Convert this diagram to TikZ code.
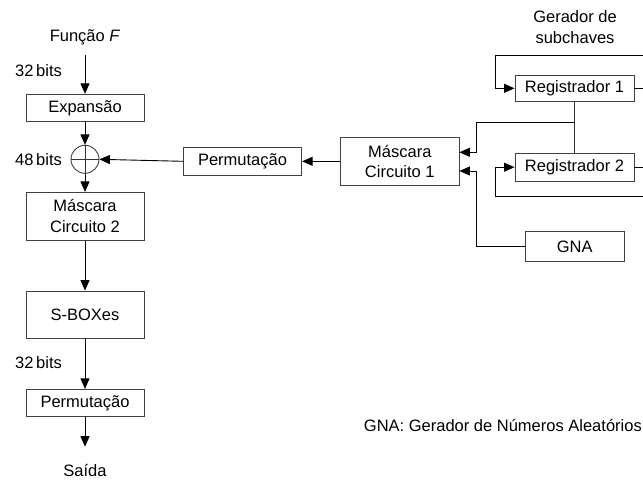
\documentclass[tikz,border=0pt]{standalone}
\usepackage{fontspec}
\setmainfont{Liberation Sans}
\usetikzlibrary{arrows.meta}
\begin{document}
\begin{tikzpicture}[x=1pt,y=-1pt,
  every node/.style={font=\fontsize{16.5}{20.5}\selectfont},
  box/.style={draw=black!75,line width=0.9pt,inner sep=0pt,align=center},
  lbl/.style={inner sep=0pt,align=center},
  arr/.style={draw=black,line width=0.9pt,-{Triangle[length=10.5pt,width=9pt]}},
  ln/.style={draw=black!80,line width=0.9pt}]
\clip (0,0) rectangle (643,480);
\fill[white] (0,0) rectangle (643,480);
% left column
\node[lbl] (ff) at (85,37) {Função \textit{F}};
\coordinate (ffb) at (85,55);
\node[lbl] (b32a) at (38.5,71) {32\,bits};
\node[box,minimum width=118pt,minimum height=27.4pt] (exp) at (85,108) {Expansão};
\node[draw=black!75,line width=0.9pt,circle,minimum size=28pt,inner sep=0pt] (xor) at (85,159.3) {};
\draw[ln] (xor.north) -- (xor.south) (xor.west) -- (xor.east);
\node[lbl] (b48) at (38.5,160) {48\,bits};
\node[box,minimum width=118pt,minimum height=47.7pt] (m2) at (85,216.2) {Máscara\\Circuito 2};
\node[box,minimum width=118pt,minimum height=47.3pt] (sb) at (85,314.7) {S-BOXes};
\node[lbl] (b32b) at (38.5,363) {32\,bits};
\node[box,minimum width=118pt,minimum height=27.4pt] (p2) at (85,403) {Permutação};
\coordinate (out) at (85,446.7);
\node[lbl] (sa) at (85,470) {Saída};
\draw[arr] (ffb) -- (exp.north);
\draw[arr] (exp.south) -- (xor.north);
\draw[arr] (xor.south) -- (m2.north);
\draw[arr] (m2.south) -- (sb.north);
\draw[arr] (sb.south) -- (p2.north);
\draw[arr] (p2.south) -- (out);
% middle
\node[box,minimum width=118.4pt,minimum height=27.3pt] (p1) at (242.5,161.3) {Permutação};
\node[box,minimum width=118.3pt,minimum height=47.3pt] (m1) at (399.8,161.3) {Máscara\\Circuito 1};
\draw[arr] (m1.west) -- (p1.east);
\draw[arr] (p1.west) -- (xor.east);
% right
\node[lbl] (gs) at (575,27) {Gerador de\\subchaves};
\node[box,minimum width=119pt,minimum height=26.7pt] (r1) at (574.5,88.3) {Registrador 1};
\node[box,minimum width=119pt,minimum height=27.7pt] (r2) at (574.5,167.2) {Registrador 2};
\node[box,minimum width=99.3pt,minimum height=30pt] (gna) at (574.7,246.7) {GNA};
\coordinate (loop1) at (660,55);
\coordinate (loop2) at (660,196.7);
\draw[arr] (r1.east) -| (loop1) -| (495.7,88.3) -- (r1.west);
\draw[arr] (r2.east) -| (loop2) -| (495.7,167.2) -- (r2.west);
\draw[ln] (r1.south) -- (r2.north);
\coordinate (br) at (574.5,122.3);
\draw[arr] (br) -| (476,152.3) -- (m1.east |- 0,152.3);
\draw[arr] (gna.west) -| (476,171) -- (m1.east |- 0,171);
\node[lbl,anchor=east] (leg) at (642,425) {GNA: Gerador de Números Aleatórios};
\end{tikzpicture}
\end{document}
